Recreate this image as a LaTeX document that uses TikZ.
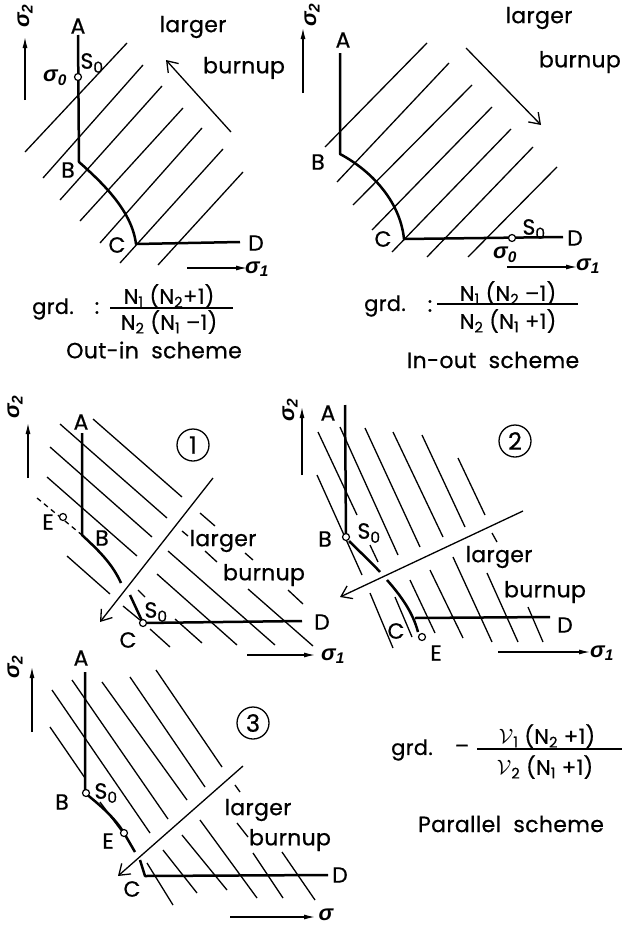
\documentclass[tikz,border=0pt]{standalone}
\usepackage{fontspec}
\setmainfont{Poppins}[FakeBold=0.6, LetterSpace=1.5]
\newfontfamily\grk{Liberation Sans}
\newcommand\sgm[1]{{\grk\bfseries\itshape σ\textsubscript{#1}}}
\usetikzlibrary{arrows.meta}

\begin{document}
\begin{tikzpicture}[x=1pt, y=-1pt,
    hatch/.style={line width=1.3pt},
    locus/.style={line width=2.5pt, line join=round},
    axis/.style={line width=1.2pt, -{Latex[length=11pt,width=5pt]}},
    dirarrow/.style={line width=1.3pt, -{Straight Barb[length=10pt,width=14pt]}},
    lbl/.style={font=\fontsize{22}{24}\selectfont, inner sep=0pt},
    frm/.style={font=\fontsize{21}{23}\selectfont, inner sep=0pt},
    pt/.style={circle, draw, fill=white, line width=1.2pt, inner sep=0pt, minimum size=7pt},
    num/.style={circle, draw, line width=1.3pt, minimum size=32pt, inner sep=0pt, font=\fontsize{24}{26}\selectfont}
]
\useasboundingbox (0,0) rectangle (623,926);

% ---- Out-in scheme
\draw[axis] (25,100) -- (25,37);
\node[lbl, rotate=90] (p1s2) at (25,16) {\sgm{2}};
\draw[axis] (187,268) -- (247,268);
\node[lbl] (p1s1) at (257,269) {\sgm{1}};
\foreach \xa/\ya/\xb/\yb in {25/152/127/43, 43/178/143/65, 60/200/162/86, 80/221/183/108,
    100/243/202/128, 120/263/223/149, 158/265/243/172}
  \draw[hatch] (\xa,\ya) -- (\xb,\yb);
\draw[locus] (78,35) -- (79,162) .. controls (105,185) and (132,212) .. (136,244) -- (240,242);
\node[pt] (p1So) at (78,77) {};
\node[lbl] (p1A) at (78,26) {A};
\node[lbl] (p1Sl) at (92,63) {S\textsubscript{0}};
\node[lbl] (p1s0) at (55,78) {\sgm{0}};
\node[lbl] (p1B) at (68,170) {B};
\node[lbl] (p1C) at (117,245) {C};
\node[lbl] (p1D) at (256,243) {D};
\node[lbl] (p1l) at (193,27) {larger};
\node[lbl] (p1b) at (244,68) {burnup};
\draw[dirarrow] (231,132) -- (166,60);

\node[frm] (f1g) at (53,309) {grd.};
\node[frm] (f1c) at (97,308) {:};
\node[frm] (f1n) at (169,296) {N\textsubscript{1} (N\textsubscript{2}+1)};
\node[frm] (f1d) at (169,322) {N\textsubscript{2} (N\textsubscript{1} –1)};
\draw[line width=1.2pt] (110,308) -- (233,308);
\node[lbl] (f1t) at (154,350) {Out-in\ \ scheme};

% ---- In-out scheme
\draw[axis] (303,93) -- (303,28);
\node[lbl, rotate=90] (p2s2) at (312,15) {\sgm{2}};
\draw[axis] (507,267) -- (577,267);
\node[lbl] (p2s1) at (588,266) {\sgm{1}};
\foreach \xa/\ya/\xb/\yb in {325/147/427/43, 337/182/449/63, 353/205/472/85, 372/230/492/107,
    392/252/511/129, 427/257/533/147, 468/257/557/167}
  \draw[hatch] (\xa,\ya) -- (\xb,\yb);
\draw[locus] (340,53) -- (340,154) .. controls (370,170) and (400,200) .. (404,239) -- (563,237);
\node[pt] (p2So) at (512,238) {};
\node[lbl] (p2A) at (343,40) {A};
\node[lbl] (p2B) at (318,162) {B};
\node[lbl] (p2C) at (383,239) {C};
\node[lbl] (p2D) at (575,238) {D};
\node[lbl] (p2Sl) at (534,229) {S\textsubscript{0}};
\node[lbl] (p2s0) at (505,255) {\sgm{0}};
\node[lbl] (p2l) at (539,18) {larger};
\node[lbl, anchor=east] (p2b) at (621,62) {burnup};
\draw[dirarrow] (466,48) -- (541,125);

\node[frm] (f2g) at (385,306) {grd.};
\node[frm] (f2c) at (430,306) {:};
\node[frm] (f2n) at (508,293) {N\textsubscript{1} (N\textsubscript{2} –1)};
\node[frm] (f2d) at (508,321) {N\textsubscript{2} (N\textsubscript{1} +1)};
\draw[line width=1.2pt] (437,304) -- (578,304);
\node[lbl] (f2t) at (493,360) {In-out\ \ scheme};

% ---- parallel, case 1
\draw[axis] (28,478) -- (28,423);
\node[lbl, rotate=90] (p3s2) at (15,407) {\sgm{2}};
\draw[axis] (247,655) -- (315,655);
\node[lbl] (p3s1) at (333,656) {\sgm{1}};
\foreach \xa/\ya/\xb/\yb in {93/419/182/497, 200/513/215/526, 245/553/253/560, 288/590/303/604,
    60/424/167/518, 182/531/188/536, 205/551/217/562, 248/589/313/646,
    50/447/152/537, 168/551/275/645, 47/477/137/556, 157/574/237/645,
    138/590/145/597, 175/619/202/643, 67/556/110/594, 123/606/140/620, 150/629/170/647}
  \draw[hatch] (\xa,\ya) -- (\xb,\yb);
\draw[hatch, dashed, dash pattern=on 5pt off 4pt] (37,498) -- (82,535);
\draw[locus] (82,433) -- (82,535) .. controls (98,550) and (112,563) .. (121,583);
\draw[locus] (130,595) -- (143,623) -- (302,621);
\node[pt] (p3E) at (63,517) {};
\node[pt] (p3Cp) at (143,623) {};
\node[lbl] (p3A) at (81,422) {A};
\node[lbl] (p3B) at (102,538) {B};
\node[lbl] (p3El) at (48,522) {E};
\node[lbl] (p3C) at (128,640) {C};
\node[lbl] (p3Sl) at (156,612) {S\textsubscript{0}};
\node[lbl] (p3D) at (322,622) {D};
\node[lbl] (p3l) at (223,541) {larger};
\node[lbl] (p3b) at (264,575) {burnup};
\draw[dirarrow] (213,478) -- (100,622);
\node[num] (n1) at (193,445) {1};

% ---- parallel, case 2
\draw[axis] (302,475) -- (302,407);
\node[lbl, rotate=90] (p4s2) at (290,410) {\sgm{2}};
\draw[axis] (498,652) -- (590,652);
\node[lbl] (p4s1) at (602,653) {\sgm{1}};
\foreach \xa/\ya/\xb/\yb in {317/475/362/575, 370/593/393/648,
    318/432/357/515, 370/545/378/562, 395/597/412/637,
    340/427/398/555, 410/580/435/633, 365/428/420/547, 430/570/463/638,
    393/432/443/537, 453/557/492/642, 422/435/465/527, 487/573/518/642,
    458/458/485/515, 492/533/497/542, 528/607/543/642}
  \draw[hatch] (\xa,\ya) -- (\xb,\yb);
\draw[locus] (345,405) -- (346,537);
\draw[locus] (349,541) .. controls (360,552) and (372,563) .. (380,572);
\draw[locus] (387,580) .. controls (402,597) and (413,613) .. (418,632);
\draw[locus] (415,618) -- (550,617);
\node[pt] (p4Bp) at (346,537) {};
\node[pt] (p4E) at (422,637) {};
\node[lbl] (p4A) at (328,413) {A};
\node[lbl] (p4B) at (325,539) {B};
\node[lbl] (p4Sl) at (369,533) {S\textsubscript{0}};
\node[lbl] (p4C) at (396,631) {C};
\node[lbl] (p4D) at (565,625) {D};
\node[lbl] (p4El) at (436,653) {E};
\node[lbl] (p4l) at (499,557) {larger};
\node[lbl] (p4b) at (545,592) {burnup};
\draw[dirarrow] (523,511) -- (340,597);
\node[num] (n2) at (515,441) {2};

% ---- parallel, case 3
\draw[axis] (32,732) -- (32,667);
\node[lbl, rotate=90] (p5s2) at (15,667) {\sgm{2}};
\draw[axis] (230,917) -- (315,917);
\node[lbl] (p5s) at (326,915) {{\grk\bfseries\itshape σ}};
\foreach \xa/\ya/\xb/\yb in {50/727/85/778, 100/802/123/833, 147/863/173/905,
    52/690/150/833, 163/850/197/893, 72/680/168/819, 182/835/227/890,
    102/682/187/800, 200/820/257/898, 130/677/205/787, 237/823/248/837, 253/853/283/898,
    156/670/222/767, 235/785/240/792, 282/852/315/900}
  \draw[hatch] (\xa,\ya) -- (\xb,\yb);
\draw[locus] (85,672) -- (85,793) .. controls (100,805) and (115,818) .. (124,833) -- (135,852);
\draw[locus] (140,860) -- (145,876) -- (328,875);
\node[pt] (p5Bp) at (86,793) {};
\node[pt] (p5E) at (124,833) {};
\node[lbl] (p5A) at (81,658) {A};
\node[lbl] (p5B) at (62,802) {B};
\node[lbl] (p5Sl) at (106,793) {S\textsubscript{0}};
\node[lbl] (p5El) at (108,841) {E};
\node[lbl] (p5C) at (132,889) {C};
\node[lbl] (p5D) at (340,875) {D};
\node[lbl] (p5l) at (258,810) {larger};
\node[lbl] (p5b) at (290,840) {burnup};
\draw[dirarrow] (243,766) -- (118,876);
\node[num] (n3) at (253,723) {3};

\node[frm] (f3g) at (412,750) {grd.};
\node[frm] (f3m) at (462,749) {–};
\node[frm] (f3n) at (547,736) {$\mathcal{V}$\textsubscript{1} (N\textsubscript{2} +1)};
\node[frm] (f3d) at (545,767) {$\mathcal{V}$\textsubscript{2} (N\textsubscript{1} +1)};
\draw[line width=1.2pt] (477,749) -- (622,749);
\node[lbl] (f3t) at (511,824) {Parallel\ \ scheme};

\end{tikzpicture}
\end{document}
